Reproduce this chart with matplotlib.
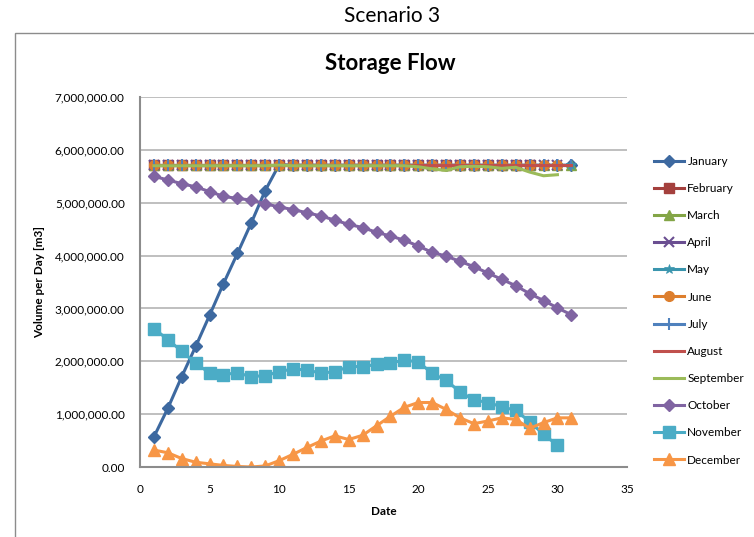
import matplotlib
matplotlib.use("Agg")
import matplotlib.pyplot as plt
from matplotlib.patches import Rectangle
from matplotlib.ticker import FuncFormatter, MultipleLocator

plt.rcParams['font.family'] = ['Lato', 'DejaVu Sans']

months = ["January", "February", "March", "April", "May", "June",
          "July", "August", "September", "October", "November", "December"]

january = [0.57, 1.11, 1.71, 2.28, 2.87, 3.47, 4.04, 4.62, 5.23, 5.72,
           5.71, 5.71, 5.71, 5.71, 5.71, 5.71, 5.71, 5.71, 5.71, 5.71,
           5.71, 5.71, 5.71, 5.71, 5.71, 5.71, 5.71, 5.71, 5.71, 5.71, 5.71]
february = [5.71] * 28
march = [5.71] * 31
april = [5.71] * 30
may = [5.71] * 31
june = [5.71] * 30
july = [5.71] * 31
august = [5.72] * 31
september = [5.70, 5.70, 5.70, 5.70, 5.70, 5.70, 5.70, 5.70, 5.70, 5.71,
             5.70, 5.70, 5.70, 5.70, 5.70, 5.70, 5.70, 5.70, 5.70, 5.68,
             5.64, 5.61, 5.68, 5.69, 5.68, 5.65, 5.67, 5.58, 5.51, 5.53]
october = [5.50, 5.43, 5.36, 5.30, 5.21, 5.12, 5.08, 5.05, 4.98, 4.92,
           4.87, 4.81, 4.75, 4.67, 4.59, 4.53, 4.44, 4.37, 4.29, 4.18,
           4.06, 3.99, 3.89, 3.79, 3.67, 3.55, 3.43, 3.28, 3.15, 3.01, 2.88]
november = [2.62, 2.41, 2.19, 1.96, 1.78, 1.75, 1.78, 1.71, 1.73, 1.80,
            1.86, 1.83, 1.78, 1.80, 1.90, 1.90, 1.94, 1.97, 2.02, 1.99,
            1.77, 1.64, 1.42, 1.27, 1.22, 1.14, 1.07, 0.86, 0.62, 0.41]
december = [0.32, 0.27, 0.16, 0.09, 0.06, 0.03, 0.01, 0.00, 0.02, 0.12,
            0.24, 0.37, 0.49, 0.59, 0.52, 0.60, 0.78, 0.96, 1.13, 1.22,
            1.22, 1.09, 0.93, 0.82, 0.87, 0.93, 0.90, 0.73, 0.84, 0.93, 0.93]

series = [january, february, march, april, may, june, july, august,
          september, october, november, december]

colors = ["#3D69A0", "#A4403D", "#83A546", "#6A4E91", "#3A95AE", "#DD7E2D",
          "#4F81BD", "#C0504D", "#9BBB59", "#8064A2", "#4BACC6", "#F79646"]
markers = ["D", "s", "^", "x", "*", "o", "|", None, None, "D", "s", "^"]
msizes = [6, 7, 7, 7, 7, 7, 8, 0, 0, 6, 8, 8]

fig = plt.figure(figsize=(7.54, 5.37), dpi=100)
ax = fig.add_axes([140/754, 1-467/537, (627-140)/754, (467-97)/537])

# outer chart frame
fig.add_artist(Rectangle((15/754, -0.1), 1.0, (1-33/537) + 0.1, transform=fig.transFigure,
                         fill=False, edgecolor="#8C8C8C", linewidth=1.0))

for vals, c, m, ms, name in zip(series, colors, markers, msizes, months):
    x = list(range(1, len(vals) + 1))
    y = [v * 1e6 for v in vals]
    kw = {}
    if m in ("x", "|"):
        kw["markeredgewidth"] = 1.5
    if m == "*":
        kw["markeredgewidth"] = 0.5
    ax.plot(x, y, color=c, linewidth=2.2, marker=m, markersize=ms,
            markerfacecolor=c, markeredgecolor=c, label=name, **kw)

ax.set_xlim(0, 35)
ax.set_ylim(0, 7e6)
ax.xaxis.set_major_locator(MultipleLocator(5))
ax.yaxis.set_major_locator(MultipleLocator(1e6))
ax.yaxis.set_major_formatter(FuncFormatter(lambda v, p: f"{v:,.2f}"))
ax.grid(axis="y", color="#B4B4B4", linewidth=1.2)
ax.set_axisbelow(True)
ax.tick_params(axis="y", length=0, labelsize=8.5, pad=11)
ax.tick_params(axis="x", length=0, labelsize=8.5, pad=12)
for s in ["top", "right"]:
    ax.spines[s].set_visible(False)
for s in ["left", "bottom"]:
    ax.spines[s].set_color("#8C8C8C")
    ax.spines[s].set_linewidth(1.5)

ax.set_xlabel("Date", fontsize=8.5, fontweight="bold", labelpad=8)
ax.set_ylabel("Volume per Day [m3]", fontsize=8.5, fontweight="bold", labelpad=7)

fig.text(392/754, 1-16/537, "Scenario 3", ha="center", va="center", fontsize=15)
fig.text(390/754, 1-63/537, "Storage Flow", ha="center", va="center",
         fontsize=16, fontweight="bold")

leg = ax.legend(loc="upper left", bbox_to_anchor=(649/754, 1-151/537),
                bbox_transform=fig.transFigure, frameon=False, fontsize=8.5,
                handlelength=2.6, handletextpad=0.25, labelspacing=1.37,
                borderaxespad=0)

fig.savefig("out.png", dpi=100)
